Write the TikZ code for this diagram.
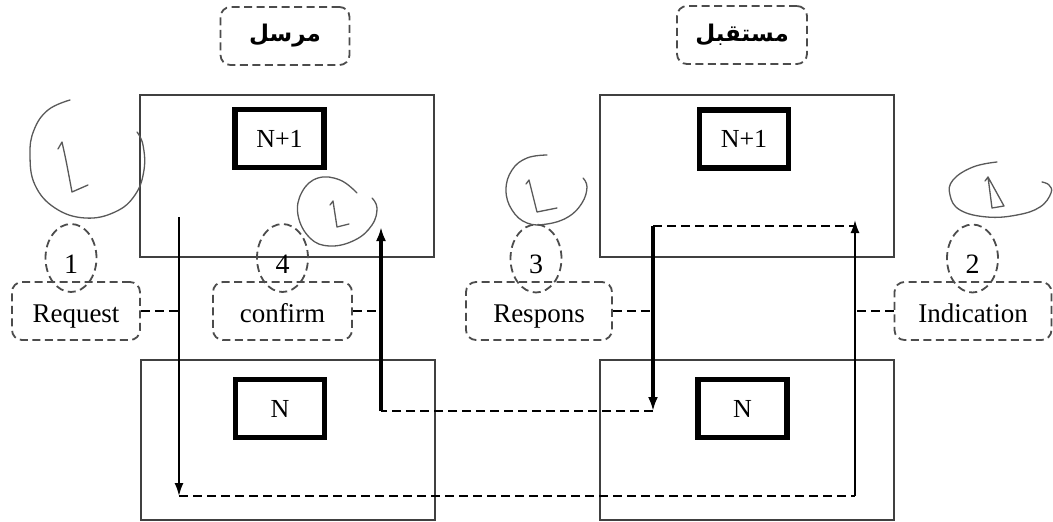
\documentclass[tikz,border=0pt]{standalone}
\usepackage{fontspec}
\setmainfont{Liberation Serif}
\newfontfamily\arabicfont[Script=Arabic]{DejaVu Sans}
\TeXXeTstate=1
\usetikzlibrary{arrows.meta,shapes.geometric}
\begin{document}
\begin{tikzpicture}[x=1pt,y=-1pt,
 bigbox/.style={draw=black!75, line width=1.3pt, rectangle, inner sep=0pt},
 layerbox/.style={draw=black, line width=5.5pt, rectangle, inner sep=0pt, minimum width=89pt, minimum height=58pt, font=\fontsize{26}{28}\selectfont},
 lblbox/.style={draw=black!70, dash pattern=on 8pt off 4.5pt, line width=1.8pt, rounded corners=10pt, minimum height=58pt, inner sep=0pt},
 primbox/.style={lblbox, text height=23pt, text depth=1pt, font=\fontsize{27}{30}\selectfont},
 rolebox/.style={lblbox, font=\arabicfont\bfseries\fontsize{23}{25}\selectfont},
 numell/.style={ellipse, draw=black!70, dash pattern=on 8pt off 4.5pt, line width=1.8pt, minimum width=51pt, minimum height=68pt, inner sep=0pt, text height=30pt, text depth=0pt, font=\fontsize{28}{30}\selectfont},
 thinflow/.style={draw=black, line width=1.8pt},
 thickflow/.style={draw=black, line width=3.8pt},
 flowdash/.style={draw=black, line width=2.4pt, dash pattern=on 9pt off 5pt},
 hand/.style={draw=black!65, line width=1.3pt, line cap=round, line join=round}
]
\fill[white] (0,0) rectangle (1053,522);
\useasboundingbox (0,0) rectangle (1053,522);

% top role labels
\node[rolebox, minimum width=129pt] (snd) at (285,36) {\beginR مرسل\endR};
\node[rolebox, minimum width=130pt] (rcv) at (742,35) {\beginR مستقبل\endR};

% layer containers
\node[bigbox, minimum width=294pt, minimum height=162pt] (sTop) at (287,176) {};
\node[bigbox, minimum width=294pt, minimum height=160pt] (sBot) at (288,440) {};
\node[bigbox, minimum width=294pt, minimum height=162pt] (rTop) at (747,176) {};
\node[bigbox, minimum width=294pt, minimum height=160pt] (rBot) at (747,440) {};

\node[layerbox] (sN1) at (279.5,138.5) {N+1};
\node[layerbox] (rN1) at (744,139) {N+1};
\node[layerbox] (sN) at (280,408.5) {N};
\node[layerbox] (rN) at (742.5,408.5) {N};

% primitive labels
\node[primbox, minimum width=128pt] (req) at (76,311) {Request};
\node[primbox, minimum width=139pt] (conf) at (282.5,311) {confirm};
\node[primbox, minimum width=146pt] (resp) at (539,311) {Respons};
\node[primbox, minimum width=157pt] (ind) at (973,311) {Indication};

\node[numell] (e1) at (71,258) {1};
\node[numell] (e4) at (282.5,258) {4};
\node[numell] (e3) at (536,258.5) {3};
\node[numell] (e2) at (972.5,258.5) {2};

% flow coordinates
\coordinate (p1) at (179,217);
\coordinate (p2) at (179,496);
\coordinate (p3) at (855,496);
\coordinate (p4) at (855,220);
\coordinate (q1) at (653,226);
\coordinate (q2) at (653,411);
\coordinate (q3) at (381,411);
\coordinate (q4) at (381,227);

\draw[thinflow,-{Latex[length=13pt,width=9pt]}] (p1) -- (p2);
\draw[flowdash] (p2) -- (p3);
\draw[thinflow,-{Latex[length=13pt,width=9pt]}] (p3) -- (p4);
\draw[flowdash] (q1) -- (q1 -| p4);
\draw[thickflow,-{Latex[length=14pt,width=10pt]}] (q1) -- (q2);
\draw[flowdash] (q2) -- (q3);
\draw[thickflow,-{Latex[length=14pt,width=10pt]}] (q3) -- (q4);

\draw[flowdash] (req.east) -- (req.east -| p1);
\draw[flowdash] (conf.east) -- (conf.east -| q3);
\draw[flowdash] (resp.east) -- (resp.east -| q1);
\draw[flowdash] (ind.west) -- (ind.west -| p3);

% hand-drawn annotations
\draw[hand] plot[smooth, tension=0.7] coordinates {(70,100) (48,110) (34,130) (30,155) (35,185) (55,208) (85,218) (115,212) (135,195) (144,170) (143,145) (137,132)};
\draw[hand] (58,149) -- (62,142) .. controls (66,160) .. (72,192) -- (88,185);

\draw[hand] plot[smooth, tension=0.7] coordinates {(357,193) (340,180) (318,178) (302,192) (298,215) (310,238) (330,246) (355,240) (372,225) (377,208) (372,198)};
\draw[hand] (330,205) -- (333,201) -- (337,227) -- (349,224);

\draw[hand] plot[smooth, tension=0.7] coordinates {(547,155) (527,158) (512,170) (506,190) (512,210) (527,223) (547,224) (568,217) (582,203) (587,187) (583,178)};
\draw[hand] (526,184) -- (529,180) -- (537,212) -- (557,208);

\draw[hand] plot[smooth, tension=0.7] coordinates {(997,162) (973,167) (953,180) (950,195) (960,210) (987,217) (1017,215) (1040,207) (1051,193) (1049,185) (1042,182)};
\draw[hand] (985,181) -- (988,177) -- (992,208) -- (1004,206) -- (988,177);
\end{tikzpicture}
\end{document}
